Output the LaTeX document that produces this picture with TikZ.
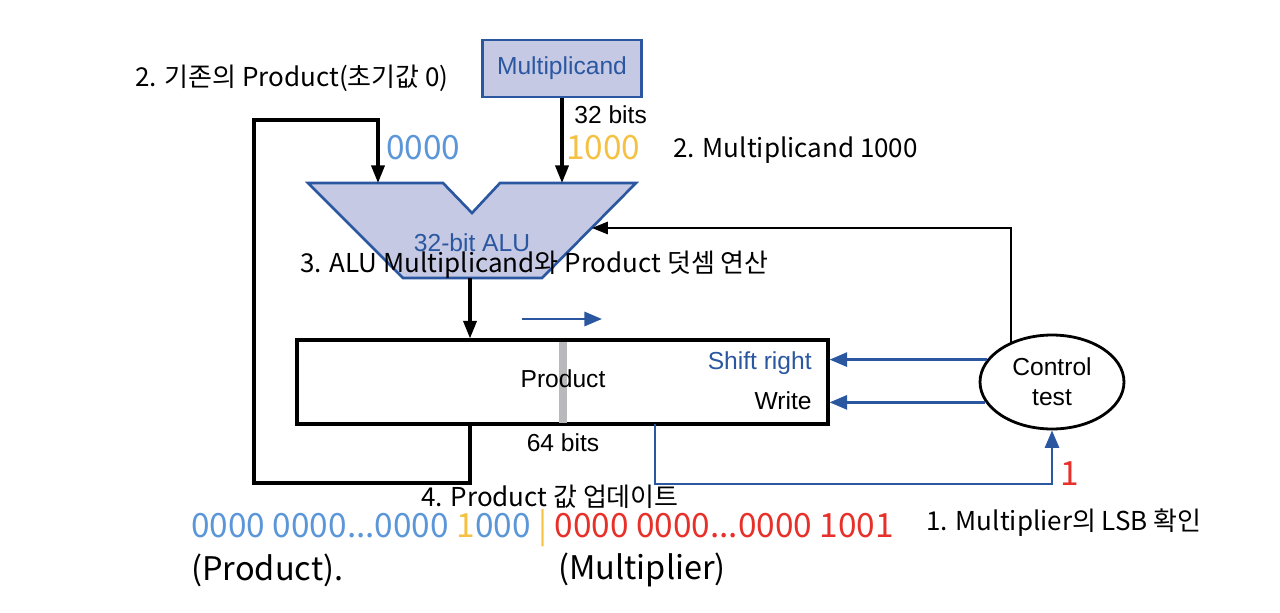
\documentclass[tikz,border=0pt]{standalone}
\usepackage{fontspec}
\setmainfont{Liberation Sans}
\newfontfamily\kr{Noto Sans CJK KR}
\usetikzlibrary{arrows.meta,shapes.geometric}
\definecolor{lav}{HTML}{C6C9E4}
\definecolor{dblue}{HTML}{2A57A0}
\definecolor{lblue}{HTML}{5B96D8}
\definecolor{yel}{HTML}{F5C143}
\definecolor{rd}{HTML}{E8302A}
\definecolor{barg}{HTML}{B9B9BD}
\tikzset{
  blk/.style={line width=1.8pt, -{Triangle[length=10pt,width=7.5pt]}},
  thinblk/.style={line width=1.1pt},
  barr/.style={dblue, line width=1.6pt, -{Triangle[length=10pt,width=8pt]}},
  lbl/.style={inner sep=0pt, font=\fontsize{14}{16}\selectfont},
  ann/.style={inner sep=0pt, anchor=west, font=\kr\fontsize{14.8}{17}\selectfont},
  big/.style={inner sep=0pt, anchor=west, font=\kr\fontsize{19}{22}\selectfont},
  bigp/.style={inner sep=0pt, anchor=west, font=\kr\fontsize{18.5}{22}\selectfont},
}
\begin{document}
\begin{tikzpicture}[x=0.02cm,y=-0.02cm]
\useasboundingbox (0,0) rectangle (1280,612);
% Multiplicand register
\node[draw=dblue, line width=1.5pt, fill=lav, minimum width=3.18cm, minimum height=1.14cm,
      text=dblue, font=\fontsize{14}{16}\selectfont] (mc) at (562,68.5) {Multiplicand};
% ALU
\draw[dblue, line width=1.5pt, fill=lav] (308,183) -- (443,183) -- (472,213) -- (500,183) -- (636,183) -- (542,278) -- (403,278) -- cycle;
\coordinate (aluA) at (378,183);
\coordinate (aluB) at (562,183);
\coordinate (aluOut) at (470,278);
\coordinate (aluC) at (592,228);
\node[lbl, text=dblue] (alulbl) at (472,243) {32-bit ALU};
% Product register
\node[draw, line width=1.8pt, minimum width=10.62cm, minimum height=1.68cm] (prod) at (562.5,382) {};
\fill[barg] (559,342) rectangle (567,423);
\node[lbl] (prodlbl) at (563,379) {Product};
\node[lbl, anchor=east, text=dblue] (shr) at (812,363) {Shift right};
\node[lbl, anchor=east] (wr) at (812,401) {Write};
\node[lbl] (b64) at (563,443) {64 bits};
% Control
\node[draw, ellipse, line width=1.6pt, minimum width=2.88cm, minimum height=1.88cm, align=center,
      font=\fontsize{14}{17}\selectfont, inner sep=0pt] (ctl) at (1052,382) {Control\\test};
% connectors
\draw[blk] (mc.south) -- (aluB);
\node[lbl, anchor=west] (b32) at (574,115) {32 bits};
\coordinate (pL) at (470,424);
\draw[blk] (pL) -- (470,483) -- (254,483) -- (254,120) -- (378,120) -- (aluA);
\draw[blk] (aluOut) -- (aluOut |- prod.north);
\path (ctl.136) coordinate (ct);
\draw[thinblk, -{Triangle[length=9pt,width=7pt]}] (ct) |- (aluC);
\draw[barr] (ctl.161) -- (ctl.161 -| prod.east);
\draw[barr] (ctl.197) -- (ctl.197 -| prod.east);
\coordinate (pR) at (655,424);
\draw[barr] (pR) -- (655,484) -| (ctl.south);
\coordinate (sa) at (522,319);
\coordinate (sb) at (602,319);
\draw[barr] (sa) -- (sb);
% values
\node[big, text=lblue] (v0) at (386,148) {0000};
\node[big, text=yel] (v1) at (566,148) {1000};
\node[big, text=rd] (one) at (1060,474) {1};
% annotations
\node[ann] (a2a) at (135,78) {2. 기존의 Product(초기값 0)};
\node[ann] (a2b) at (673,150) {2. Multiplicand 1000};
\node[ann] (a3) at (300,265) {3. ALU Multiplicand와 Product 덧셈 연산};
\node[ann] (a4) at (421,497) {4. Product 값 업데이트};
\node[ann] (a1) at (926,523) {1. Multiplier의 LSB 확인};
\node[big] (bits) at (191,528) {\textcolor{lblue}{0000 0000...0000 }\textcolor{yel}{1}\textcolor{lblue}{000} \textcolor{yel}{|} \textcolor{rd}{0000 0000...0000 1001}};
\node[bigp] (pp) at (191,570) {(Product).};
\node[bigp] (mp) at (558,570) {(Multiplier)};
\end{tikzpicture}
\end{document}
